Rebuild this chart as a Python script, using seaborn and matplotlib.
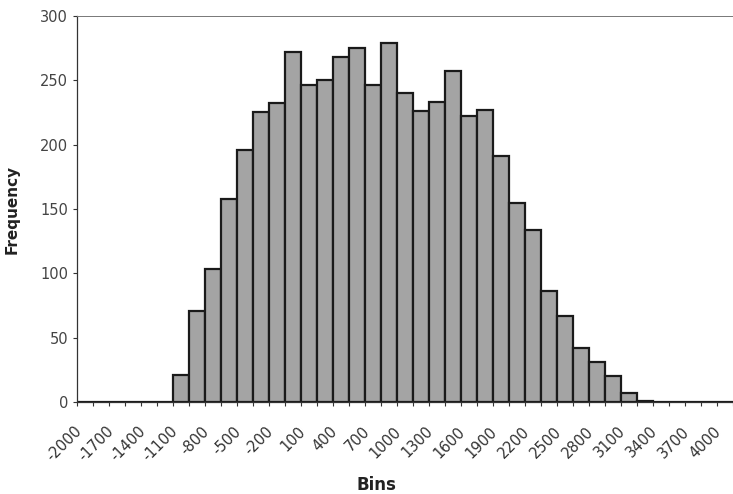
import matplotlib
matplotlib.use("Agg")
import matplotlib.pyplot as plt
import matplotlib.transforms as mtransforms
import seaborn as sns
import numpy as np
import pandas as pd

# Bin labels (-2000 .. 4000 step 150)
bins = [-2000, -1850, -1700, -1550, -1400, -1250, -1100, -950, -800, -650,
        -500, -350, -200, -50, 100, 250, 400, 550, 700, 850,
        1000, 1150, 1300, 1450, 1600, 1750, 1900, 2050, 2200, 2350,
        2500, 2650, 2800, 2950, 3100, 3250, 3400, 3550, 3700, 3850, 4000]
# Frequencies
freq = [0, 0, 0, 0, 0, 0, 21, 71, 103, 158,
        196, 225, 232, 272, 246, 250, 268, 275, 246, 279,
        240, 226, 233, 257, 222, 227, 191, 155, 134, 86,
        67, 42, 31, 20, 7, 1, 0, 0, 0, 0, 0]
yticks = [0, 50, 100, 150, 200, 250, 300]

labels = [str(b) for b in bins]
df = pd.DataFrame({"Bins": labels, "Frequency": freq})

sns.set_style("white")
plt.rcParams['font.family'] = ['DejaVu Sans']

fig = plt.figure(figsize=(7.33, 4.94), dpi=100)
ax = fig.add_axes([77/733, 1-402/494, (733-77)/733, (402-16)/494])

sns.barplot(data=df, x="Bins", y="Frequency", order=labels, color="#a4a4a4",
            saturation=1, edgecolor="#1a1a1a", linewidth=1.6, width=1.0, ax=ax)

ax.set_xlim(-0.5, 40.0)
ax.set_ylim(0, 300)
ax.set_yticks(yticks)
ax.set_yticklabels([str(v) for v in yticks])
ax.tick_params(axis='y', labelsize=10.5, labelcolor="#444444", length=3,
               width=0.8, color="#333333", direction='out', left=True, pad=3.5)

# x labels every other category
major = list(range(0, len(labels), 2))
ax.set_xticks(major)
ax.set_xticklabels([labels[i] for i in major], rotation=45, ha='right',
                   va='center', rotation_mode='anchor', fontsize=10.5, color="#333333")
ax.tick_params(axis='x', which='major', length=0, pad=0)
offset = mtransforms.ScaledTranslation(-6/100, -27/100, fig.dpi_scale_trans)
for lab in ax.get_xticklabels():
    lab.set_transform(lab.get_transform() + offset)
ax.set_xticks([i - 0.5 for i in range(len(labels))] + [40.5], minor=True)
ax.tick_params(axis='x', which='minor', length=3, width=0.8, color="#333333",
               direction='out', bottom=True)

for s in ['left', 'bottom', 'top']:
    ax.spines[s].set_visible(True)
    ax.spines[s].set_color("#333333")
    ax.spines[s].set_linewidth(0.9)
ax.spines['top'].set_color("#777777")
ax.spines['top'].set_linewidth(0.7)
ax.spines['right'].set_visible(False)

ax.set_xlabel("Bins", fontsize=12, fontweight='bold', color="#222222")
ax.set_ylabel("Frequency", fontsize=11, fontweight='bold', color="#222222")
ax.xaxis.set_label_coords(0.456, -0.192)
ax.yaxis.set_label_coords(-0.087, 0.50)

fig.savefig("out.png", dpi=100)
